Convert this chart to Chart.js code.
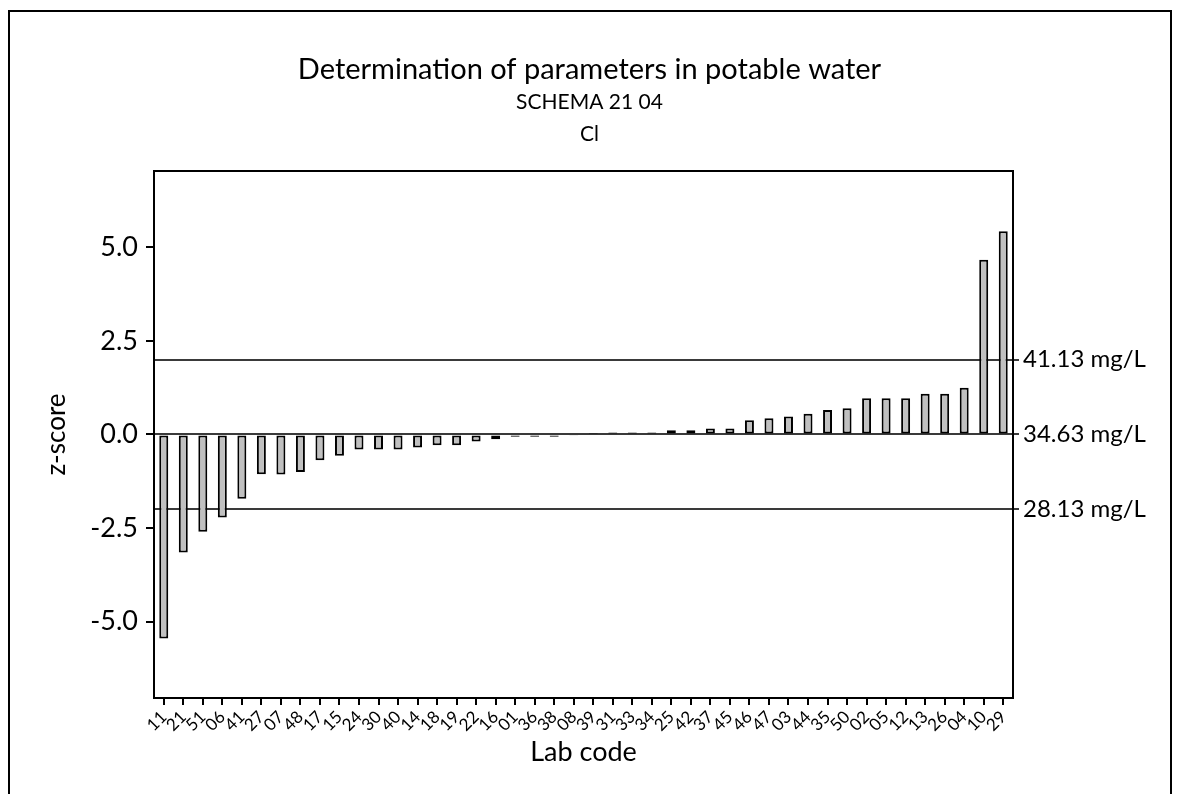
<!DOCTYPE html>
<html>
<head>
<meta charset="utf-8">
<script src="https://cdn.jsdelivr.net/npm/chart.js@4"></script>
<style>
  html, body { margin: 0; padding: 0; background: #fff; overflow: hidden; }
  #frame { position: absolute; left: 8px; top: 10px; width: 1160px; height: 900px; border: 2px solid #000; }
  #myChart { position: absolute; left: 0; top: 0; }
</style>
</head>
<body>
<div id="frame"></div>
<canvas id="myChart" width="1179" height="794"></canvas>
<script>
const labCodes = ['11','21','51','06','41','27','07','48','17','15','24','30','40','14','18','19','22','16','01','36','38','08',
                  '39','31','33','34','25','42','37','45','46','47','03','44','35','50','02','05','12','13','26','04','10','29']
const zScores = [-5.45,-3.15,-2.6,-2.22,-1.72,-1.06,-1.07,-1.0,-0.69,-0.57,-0.40,-0.40,-0.40,-0.35,-0.29,-0.29,-0.19,-0.13,-0.06,-0.06,-0.06,-0.02,
                 0.01,0.05,0.05,0.05,0.11,0.11,0.16,0.16,0.38,0.43,0.48,0.55,0.65,0.70,0.97,0.97,0.97,1.09,1.09,1.25,4.67,5.43]
const yTickValues = [-5, -2.5, 0, 2.5, 5]
const refValues = [-2, 0, 2]
const refLabels = ['28.13 mg/L', '34.63 mg/L', '41.13 mg/L']
const yMin = -7.04
const yMax = 7.04

const fontFamily = 'Lato, "Open Sans", sans-serif'

// top edge of the plot frame (axes draw the other three sides)
const frameTop = {
    id: 'frameTop',
    afterDraw(chart) {
        const {ctx, chartArea} = chart
        ctx.save()
        ctx.strokeStyle = '#000'
        ctx.lineWidth = 2
        ctx.beginPath()
        ctx.moveTo(chartArea.left - 1, chartArea.top)
        ctx.lineTo(chartArea.right + 1, chartArea.top)
        ctx.stroke()
        ctx.restore()
    }
}

const ctx = document.getElementById('myChart').getContext('2d')
const myChart = new Chart(ctx, {
    type: 'bar',
    data: {
        labels: labCodes,
        datasets: [{
            label: 'z-score',
            data: zScores,
            backgroundColor: '#c0c0c0',
            borderColor: '#000',
            borderWidth: 2,
            borderSkipped: false,
            barPercentage: 0.46,
            categoryPercentage: 1
        }]
    },
    options: {
        responsive: false,
        animation: false,
        layout: { padding: { top: 10, left: 0, right: 0, bottom: 0 } },
        plugins: {
            legend: { display: false },
            tooltip: { enabled: false },
            title: {
                display: true,
                text: 'Determination of parameters in potable water',
                color: '#000',
                font: { family: fontFamily, size: 29, weight: 'normal', lineHeight: 1.1 },
                padding: { top: 44, bottom: 0 }
            },
            subtitle: {
                display: true,
                text: ['SCHEMA 21 04', 'Cl'],
                color: '#000',
                font: { family: fontFamily, size: 21, weight: 'normal', lineHeight: 1.524 },
                padding: { top: 0, bottom: 21 }
            }
        },
        scales: {
            x: {
                offset: true,
                grid: { offset: false, drawOnChartArea: false, tickLength: 7, color: '#000', lineWidth: 2 },
                border: { color: '#000', width: 2 },
                ticks: {
                    autoSkip: false, minRotation: 45, maxRotation: 45, padding: 2,
                    color: '#000', font: { family: fontFamily, size: 17 }
                },
                title: {
                    display: true, text: 'Lab code', color: '#000',
                    font: { family: fontFamily, size: 27 },
                    padding: { top: 0, bottom: 26 }
                },
                afterFit(scale) { scale.height = 96 }
            },
            y: {
                position: 'left',
                min: yMin,
                max: yMax,
                grid: { drawOnChartArea: false, tickLength: 8, color: '#000', lineWidth: 2 },
                border: { color: '#000', width: 2 },
                ticks: {
                    padding: 8, color: '#000', font: { family: fontFamily, size: 27 },
                    callback: v => v.toFixed(1)
                },
                afterBuildTicks(scale) { scale.ticks = yTickValues.map(v => ({ value: v })) },
                title: {
                    display: true, text: 'z-score', color: '#000',
                    font: { family: fontFamily, size: 26 },
                    padding: { top: 41, bottom: 0 }
                },
                afterFit(scale) { scale.width = 154 }
            },
            ref: {
                position: 'right',
                min: yMin,
                max: yMax,
                grid: { drawOnChartArea: true, tickLength: 6, color: '#3a3a3a', lineWidth: 2 },
                border: { color: '#000', width: 2 },
                ticks: {
                    padding: 4, color: '#000', font: { family: fontFamily, size: 24 },
                    callback: v => refLabels[refValues.indexOf(v)]
                },
                afterBuildTicks(scale) { scale.ticks = refValues.map(v => ({ value: v })) },
                afterFit(scale) { scale.width = 166 }
            }
        }
    },
    plugins: [frameTop]
})
</script>
</body>
</html>
